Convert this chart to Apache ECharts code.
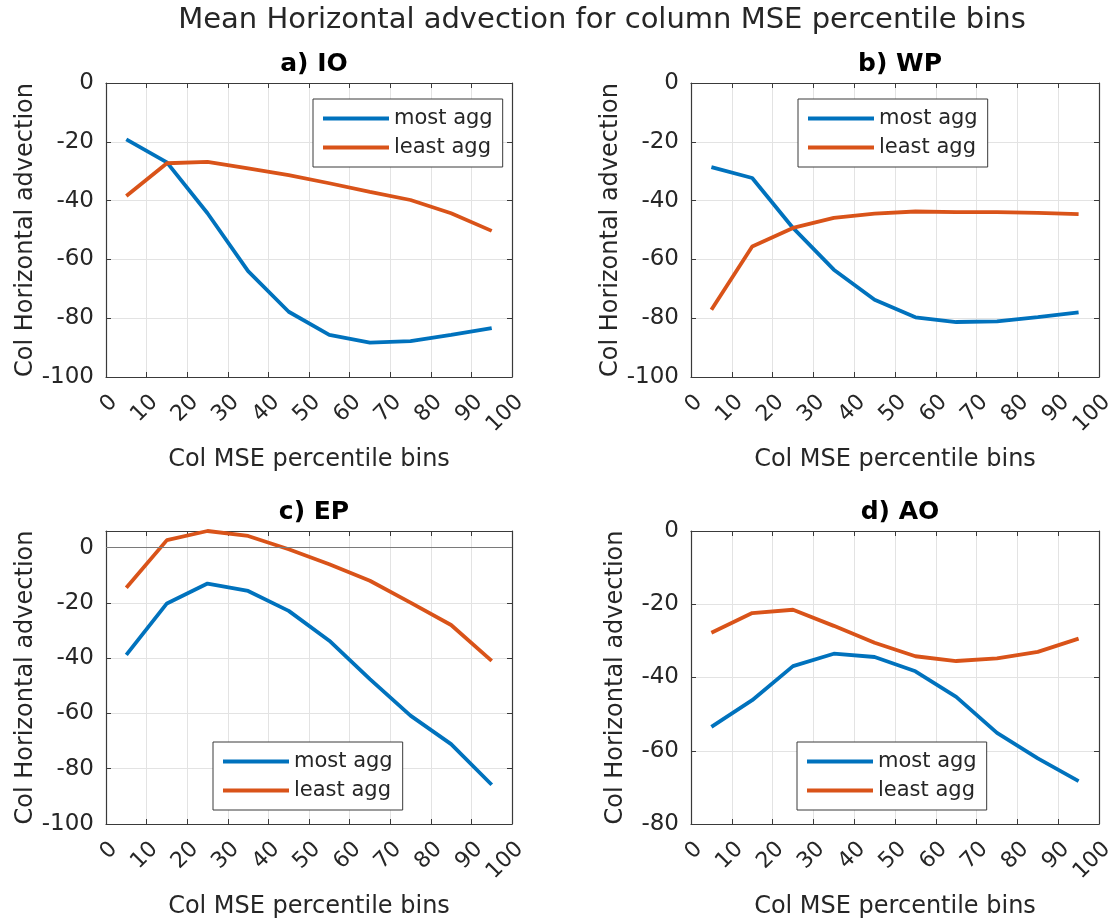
<!DOCTYPE html>
<html>
<head>
<meta charset="utf-8">
<script src="https://cdn.jsdelivr.net/npm/echarts@6/dist/echarts.min.js"></script>
<style>
  html, body { margin: 0; padding: 0; background: #fff; }
  #chart { width: 1119px; height: 923px; }
</style>
</head>
<body>
<div id="chart"></div>
<script>
// Percentile bin centres shared by every panel
const binCentres = [5, 15, 25, 35, 45, 55, 65, 75, 85, 95];
const xTicks = [0, 10, 20, 30, 40, 50, 60, 70, 80, 90, 100];

// Panel titles
const panelTitles = ['a) IO', 'b) WP', 'c) EP', 'd) AO'];
const seriesNames = ['most agg', 'least agg'];

// Column horizontal advection per bin
const ioMost  = [-19.2, -27.0, -44.3, -64.0, -77.8, -85.7, -88.3, -87.8, -85.7, -83.4];
const ioLeast = [-38.4, -27.3, -26.8, -29.0, -31.3, -34.1, -37.0, -39.8, -44.3, -50.3];
const wpMost  = [-28.6, -32.3, -49.3, -63.5, -73.7, -79.7, -81.3, -81.1, -79.6, -78.0];
const wpLeast = [-77.1, -55.6, -49.3, -45.9, -44.4, -43.7, -43.9, -43.9, -44.2, -44.6];
const epMost  = [-38.8, -20.2, -13.0, -15.7, -22.9, -33.7, -47.6, -60.8, -71.1, -85.8];
const epLeast = [-14.5, 2.7, 6.0, 4.2, -0.6, -6.0, -12.0, -19.9, -28.0, -41.0];
const aoMost  = [-53.5, -46.2, -36.9, -33.5, -34.4, -38.3, -45.3, -55.1, -62.1, -68.3];
const aoLeast = [-27.8, -22.4, -21.5, -25.9, -30.5, -34.2, -35.5, -34.8, -33.0, -29.4];

// y-axis limits per panel
const yLimits = [[-100, 0], [-100, 0], [-100, 6], [-80, 0]];

const panelData = [[ioMost, ioLeast], [wpMost, wpLeast], [epMost, epLeast], [aoMost, aoLeast]];

const FONT = 'DejaVu Sans';
const TXT = '#262626';
const AX = '#3a3a3a';
const BLUE = '#0072BD';
const ORANGE = '#D95319';

const grids = [
  { left: 106, top: 83,  width: 406, height: 294 },
  { left: 691, top: 83,  width: 408, height: 294 },
  { left: 106, top: 531, width: 406, height: 293 },
  { left: 691, top: 531, width: 408, height: 293 }
];
const legendPos = [
  { left: 313, top: 99 },
  { left: 798, top: 99 },
  { left: 213, top: 742 },
  { left: 797, top: 742 }
];

const xAxes = [], yAxes = [], series = [], titles = [], legends = [];

titles.push({
  text: 'Mean Horizontal advection for column MSE percentile bins',
  left: 597, top: 1, textAlign: 'center',
  textStyle: { fontFamily: FONT, fontSize: 29, fontWeight: 'normal', color: TXT }
});

const pairs = (vals) => binCentres.map((x, i) => [x, vals[i]]);

grids.forEach((g, i) => {
  const [ymin, ymax] = yLimits[i];
  titles.push({
    text: panelTitles[i],
    left: g.left + g.width / 2, top: g.top - 36, textAlign: 'center',
    textStyle: { fontFamily: FONT, fontSize: 25, fontWeight: 'bold', color: '#000' }
  });
  // bottom axis with labels
  xAxes.push({
    type: 'value', gridIndex: i, min: 0, max: 100, interval: 10, position: 'bottom',
    name: 'Col MSE percentile bins', nameLocation: 'middle', nameGap: 71,
    nameTextStyle: { fontFamily: FONT, fontSize: 24, color: TXT },
    axisLine: { show: true, onZero: false, lineStyle: { color: AX, width: 1.2 } },
    axisTick: { show: true, inside: true, length: 5, lineStyle: { color: AX } },
    axisLabel: { rotate: 45, fontFamily: FONT, fontSize: 22, color: TXT, margin: 14,
                 verticalAlign: 'top', showMinLabel: true, showMaxLabel: true,
                 customValues: xTicks },
    splitLine: { show: true, lineStyle: { color: '#e3e3e3', width: 1 } }
  });
  // top mirror for the box
  xAxes.push({
    type: 'value', gridIndex: i, min: 0, max: 100, interval: 10, position: 'top',
    axisLine: { show: true, onZero: false, lineStyle: { color: AX, width: 1.2 } },
    axisTick: { show: true, inside: true, length: 5, lineStyle: { color: AX } },
    axisLabel: { show: false }, splitLine: { show: false }
  });
  yAxes.push({
    type: 'value', gridIndex: i, min: ymin, max: ymax, interval: 20, position: 'left',
    name: 'Col Horizontal advection', nameLocation: 'middle', nameGap: 63, nameRotate: 90,
    nameTextStyle: { fontFamily: FONT, fontSize: 24, color: TXT },
    axisLine: { show: true, onZero: false, lineStyle: { color: AX, width: 1.2 } },
    axisTick: { show: true, inside: true, length: 5, lineStyle: { color: AX } },
    axisLabel: { fontFamily: FONT, fontSize: 23, color: TXT, margin: 12, showMaxLabel: ymax === 0 },
    splitLine: { show: true, lineStyle: { color: '#e3e3e3', width: 1 } }
  });
  yAxes.push({
    type: 'value', gridIndex: i, min: ymin, max: ymax, interval: 20, position: 'right',
    axisLine: { show: true, onZero: false, lineStyle: { color: AX, width: 1.2 } },
    axisTick: { show: true, inside: true, length: 5, lineStyle: { color: AX } },
    axisLabel: { show: false }, splitLine: { show: false }
  });

  const [most, least] = panelData[i];
  series.push({
    name: seriesNames[0], type: 'line', xAxisIndex: 2 * i, yAxisIndex: 2 * i,
    data: pairs(most), showSymbol: false, symbol: 'none', z: 3,
    lineStyle: { color: BLUE, width: 3.8 }, itemStyle: { color: BLUE }
  });
  const leastSeries = {
    name: seriesNames[1], type: 'line', xAxisIndex: 2 * i, yAxisIndex: 2 * i,
    data: pairs(least), showSymbol: false, symbol: 'none', z: 3,
    lineStyle: { color: ORANGE, width: 3.8 }, itemStyle: { color: ORANGE }
  };
  if (ymax > 0) {
    // zero reference line
    leastSeries.markLine = {
      silent: true, symbol: 'none', label: { show: false }, animation: false,
      lineStyle: { color: '#7a7a7a', width: 1.2, type: 'solid' },
      data: [{ yAxis: 0 }]
    };
  }
  series.push(leastSeries);

  legends.push({
    data: seriesNames, orient: 'vertical',
    left: legendPos[i].left, top: legendPos[i].top,
    padding: [9, 10, 9, 10], itemGap: 8, itemWidth: 66, itemHeight: 4,
    icon: 'rect', backgroundColor: '#fff', borderColor: AX, borderWidth: 1,
    textStyle: { fontFamily: FONT, fontSize: 21, color: TXT, lineHeight: 20 },
    selectedMode: false
  });
});

const chart = echarts.init(document.getElementById('chart'), null, { renderer: 'canvas' });
chart.setOption({
  backgroundColor: '#fff',
  animation: false,
  title: titles,
  legend: legends,
  grid: grids,
  xAxis: xAxes,
  yAxis: yAxes,
  series: series
});
</script>
</body>
</html>
